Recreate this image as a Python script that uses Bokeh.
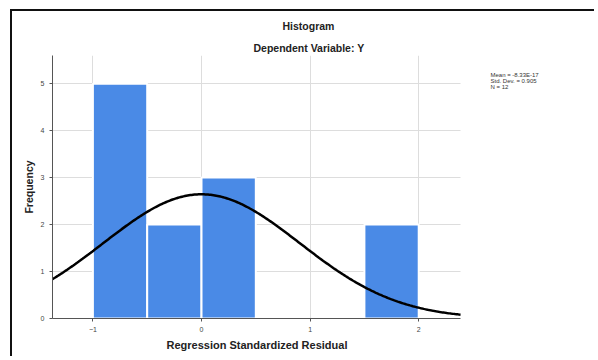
import numpy as np
from bokeh.plotting import figure
from bokeh.models import Range1d, FixedTicker, Title, ColumnDataSource
from bokeh.core.properties import value
from bokeh.embed import file_html
from bokeh.resources import INLINE

# data
bin_left = [-1.0, -0.5, 0.0, 1.5]
bin_right = [-0.5, 0.0, 0.5, 2.0]
counts = [5, 2, 3, 2]
mean_val = 0.0
std_dev = 0.905
n_obs = 12
bin_width = 0.5
x_ticks = [-1, 0, 1, 2]
y_ticks = [0, 1, 2, 3, 4, 5]
stats_lines = ["Mean = -8.33E-17", "Std. Dev. = 0.905", "N = 12"]

XMIN, XMAX = -1.372, 2.385
YMAX = 5.6
W, H = 584, 347
p = figure(width=W, height=H, output_backend="svg", toolbar_location=None,
           x_range=Range1d(XMIN, 3.637), y_range=Range1d(0, YMAX),
           min_border_left=40, min_border_right=0, min_border_top=44,
           min_border_bottom=40)
p.styles = {"border-top": "2px solid #111", "border-left": "2px solid #111",
            "margin-top": "9px", "margin-left": "10px"}
p.outline_line_color = None
p.background_fill_color = "white"
p.border_fill_color = "white"

src = ColumnDataSource(dict(left=bin_left, right=bin_right, top=counts,
                            bottom=[0] * len(counts)))
p.quad(left="left", right="right", top="top", bottom="bottom", source=src,
       fill_color="#4a8ae6", line_color="white", line_width=2)

xs = np.linspace(XMIN, XMAX, 300)
ys = n_obs * bin_width * np.exp(-0.5 * ((xs - mean_val) / std_dev) ** 2) / (std_dev * np.sqrt(2 * np.pi))
p.line(xs, ys, line_color="black", line_width=2.5)

p.xaxis.ticker = FixedTicker(ticks=x_ticks)
p.yaxis.ticker = FixedTicker(ticks=y_ticks)
p.xaxis.bounds = (XMIN, XMAX)
for ax in (p.xaxis[0], p.yaxis[0]):
    ax.minor_tick_line_color = None
    ax.major_tick_in = 0
    ax.major_tick_out = 3
    ax.axis_line_color = "#555555"
    ax.major_tick_line_color = "#555555"
    ax.major_label_text_font_size = "7px"
    ax.major_label_text_color = "#444444"
    ax.axis_label_text_font = "Liberation Sans"
    ax.axis_label_text_font_style = "bold"
    ax.axis_label_text_font_size = "10.5px"
    ax.axis_label_text_color = "#222222"
p.yaxis.axis_label = "Frequency"
p.yaxis.axis_label_standoff = 3

p.xgrid.ticker = FixedTicker(ticks=x_ticks)
p.ygrid.ticker = FixedTicker(ticks=y_ticks[1:])
p.ygrid.cross_bounds = (XMIN, XMAX)
p.xgrid.grid_line_color = "#dddddd"
p.ygrid.grid_line_color = "#dddddd"

def mk_title(text, size, offset, standoff):
    return Title(text=text, align="left", offset=offset, standoff=standoff,
                 text_font="Liberation Sans", text_font_style="bold",
                 text_font_size=size, text_color="#222222")

p.add_layout(mk_title("Regression Standardized Residual", "11px", 114, 4), "below")
p.add_layout(mk_title("Dependent Variable: Y", "10.5px", 201, 3), "above")
p.add_layout(mk_title("Histogram", "10.5px", 230, 13), "above")

# summary statistics, placed at the right of the histogram
p.text(x=[2.661] * 3, y=[5.185, 5.057, 4.930], text=stats_lines,
       text_font=value("Liberation Sans"), text_font_size="6px",
       text_color="#333333", text_align="left", text_baseline="middle")

open("out.html", "w").write(file_html(p, INLINE))
